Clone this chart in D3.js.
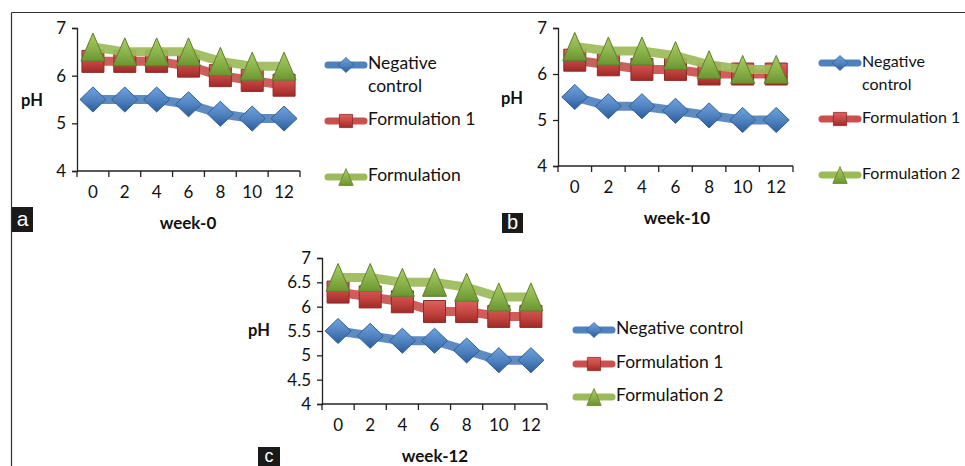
<!DOCTYPE html>
<html><head><meta charset="utf-8">
<script src="https://cdn.jsdelivr.net/npm/d3@7"></script>
<style>
html,body{margin:0;padding:0;background:#fff;}
svg{display:block;font-family:Lato,"Open Sans",sans-serif;}
</style></head>
<body>
<svg id="chart" width="965" height="466"></svg>
<script>
// ---- data ----
const weeks = ["0","2","4","6","8","10","12"];
const seriesNames = ["Negative control","Formulation 1","Formulation 2"];
const week0Negative = [5.5,5.5,5.5,5.4,5.2,5.1,5.1];
const week0Form1    = [6.3,6.3,6.3,6.2,6.0,5.9,5.8];
const week0Form2    = [6.6,6.5,6.5,6.5,6.3,6.2,6.2];
const week10Negative = [5.5,5.3,5.3,5.2,5.1,5.0,5.0];
const week10Form1    = [6.3,6.2,6.1,6.1,6.0,6.0,6.0];
const week10Form2    = [6.6,6.5,6.5,6.4,6.2,6.1,6.1];
const week12Negative = [5.5,5.4,5.3,5.3,5.1,4.9,4.9];
const week12Form1    = [6.3,6.2,6.1,5.9,5.9,5.8,5.8];
const week12Form2    = [6.6,6.6,6.5,6.5,6.4,6.2,6.2];
const ticksAB = [4,5,6,7];
const ticksC = [4,4.5,5,5.5,6,6.5,7];
const panelTitles = ["week-0","week-10","week-12"];
const panelLetters = ["a","b","c"];
const legendLabelsA = [["Negative","control"],["Formulation 1"],["Formulation"]];
const legendLabelsB = [["Negative","control"],["Formulation 1"],["Formulation 2"]];
const legendLabelsC = [["Negative control"],["Formulation 1"],["Formulation 2"]];

const svg = d3.select("#chart");
const defs = svg.append("defs");
const styles = [
  {line:"#4f81bd", top:"#6fa3de", bot:"#2b5c9c", stroke:"#2f5f98", shape:"diamond"},
  {line:"#c9504d", top:"#e0605c", bot:"#a12925", stroke:"#8f2a27", shape:"square"},
  {line:"#9bbb59", top:"#a9cf63", bot:"#6b9530", stroke:"#5f7f2c", shape:"triangle"}
];
styles.forEach((s,i)=>{
  const g = defs.append("linearGradient").attr("id","grad"+i)
    .attr("x1","0").attr("y1","0").attr("x2","0").attr("y2","1");
  g.append("stop").attr("offset","0%").attr("stop-color",s.top);
  g.append("stop").attr("offset","55%").attr("stop-color",d3.interpolateRgb(s.top,s.bot)(0.5));
  g.append("stop").attr("offset","100%").attr("stop-color",s.bot);
});

function markerPath(shape, sc){
  if(shape==="diamond"){const w=13*sc,h=12.5*sc;return `M0,${-h}L${w},0L0,${h}L${-w},0Z`;}
  if(shape==="square"){const a=11*sc;return `M${-a},${-a}H${a}V${a}H${-a}Z`;}
  const w=12*sc,h=14*sc;return `M0,${-h}L${w},${h}L${-w},${h}Z`;
}

// frame
svg.append("line").attr("x1",11.5).attr("x2",965).attr("y1",12.5).attr("y2",12.5).attr("stroke","#333").attr("stroke-width",1.2);
svg.append("line").attr("x1",11.5).attr("x2",11.5).attr("y1",12.5).attr("y2",466).attr("stroke","#333").attr("stroke-width",1.2);

function drawPanel(cfg){
  const g = svg.append("g");
  const x = d3.scaleBand().domain(weeks).range(cfg.xr);
  const y = d3.scaleLinear().domain([4,7]).range(cfg.yr);
  // axes
  const ya = g.append("g").attr("transform",`translate(${cfg.xr[0]},0)`)
    .call(d3.axisLeft(y).tickValues(cfg.ticks).tickSize(5).tickPadding(6).tickFormat(d3.format("~g")));
  const xa = g.append("g").attr("transform",`translate(0,${cfg.yr[0]})`)
    .call(d3.axisBottom(x).tickSize(0).tickPadding(15));
  [ya,xa].forEach(a=>{
    a.selectAll("path.domain").attr("stroke","#222").attr("stroke-width",1.3);
    a.selectAll("line").attr("stroke","#222").attr("stroke-width",1.3);
    a.selectAll("text").attr("font-size",17).attr("fill","#111").attr("font-family","Lato, sans-serif");
  });
  xa.select("path.domain").attr("d",`M${cfg.xr[0]},0H${cfg.xr[1]}`);
  // band boundary ticks
  const bounds = weeks.map(w=>x(w)).concat([x.range()[1]]);
  xa.selectAll("line.bt").data(bounds).enter().append("line").attr("class","bt")
    .attr("x1",d=>d).attr("x2",d=>d).attr("y1",0).attr("y2",6).attr("stroke","#222").attr("stroke-width",1.3);
  // series
  cfg.data.forEach((vals,i)=>{
    const s = styles[i];
    const line = d3.line().x((d,j)=>x(weeks[j])+x.bandwidth()/2).y(d=>y(d));
    g.append("path").attr("d",line(vals)).attr("fill","none").attr("stroke",s.line)
      .attr("stroke-width",9).attr("stroke-linejoin","round").attr("stroke-opacity",0.92);
    g.selectAll(null).data(vals).enter().append("path")
      .attr("transform",(d,j)=>`translate(${x(weeks[j])+x.bandwidth()/2},${y(d)})`)
      .attr("d",markerPath(s.shape,1)).attr("fill",`url(#grad${i})`)
      .attr("stroke",s.stroke).attr("stroke-width",1);
  });
  // labels
  g.append("text").attr("x",cfg.ph[0]).attr("y",cfg.ph[1]).attr("text-anchor","middle").attr("dominant-baseline","middle")
    .attr("font-weight","bold").attr("font-size",16.5).attr("fill","#111").text("pH");
  g.append("text").attr("x",cfg.title[0]).attr("y",cfg.title[1]).attr("text-anchor","middle")
    .attr("font-weight","bold").attr("font-size",17).attr("fill","#111").text(cfg.titleText);
  // letter box
  g.append("rect").attr("x",cfg.box[0]).attr("y",cfg.box[1]).attr("width",cfg.box[2]).attr("height",cfg.box[3]).attr("fill","#1a1a1a");
  g.append("text").attr("x",cfg.box[0]+cfg.box[2]/2).attr("y",cfg.box[1]+cfg.box[3]/2+1).attr("text-anchor","middle")
    .attr("dominant-baseline","middle").attr("fill","#fff").attr("font-size",cfg.box[4]).attr("font-family","Liberation Sans, Arial, sans-serif").text(cfg.letter);
  // legend
  cfg.legend.labels.forEach((lab,i)=>{
    const s = styles[i];
    const ly = cfg.legend.ys[i];
    const lx = cfg.legend.x;
    g.append("line").attr("x1",lx+3).attr("x2",lx+39).attr("y1",ly).attr("y2",ly)
      .attr("stroke",s.line).attr("stroke-width",7).attr("stroke-linecap","round");
    g.append("path").attr("transform",`translate(${lx+21},${ly})`).attr("d",markerPath(s.shape,0.6))
      .attr("fill",`url(#grad${i})`).attr("stroke",s.stroke).attr("stroke-width",0.8);
    const t = g.append("text").attr("x",lx+43).attr("y",ly).attr("font-size",cfg.legend.fs).attr("fill","#111")
      .attr("dominant-baseline","middle");
    lab.forEach((l,k)=>t.append("tspan").attr("x",lx+43).attr("dy",k===0?0:23).text(l));
  });
}

drawPanel({xr:[77,300], yr:[171,28], ticks:ticksAB, data:[week0Negative,week0Form1,week0Form2],
  ph:[32,102], title:[188,229], titleText:panelTitles[0], box:[12,207,21,25,21], letter:panelLetters[0],
  legend:{x:325, ys:[65,121,177], labels:legendLabelsA, fs:17.5}});
drawPanel({xr:[558,793], yr:[166,28], ticks:ticksAB, data:[week10Negative,week10Form1,week10Form2],
  ph:[512,100], title:[677,224], titleText:panelTitles[1], box:[502,213,21,20,20], letter:panelLetters[1],
  legend:{x:819, ys:[63,119,175], labels:legendLabelsB, fs:16}});
drawPanel({xr:[322,547], yr:[404,258], ticks:ticksC, data:[week12Negative,week12Form1,week12Form2],
  ph:[259,332], title:[435,462], titleText:panelTitles[2], box:[258,447,22,19,18], letter:panelLetters[2],
  legend:{x:573, ys:[330,364,397], labels:legendLabelsC, fs:17.5}});
</script>
</body></html>
